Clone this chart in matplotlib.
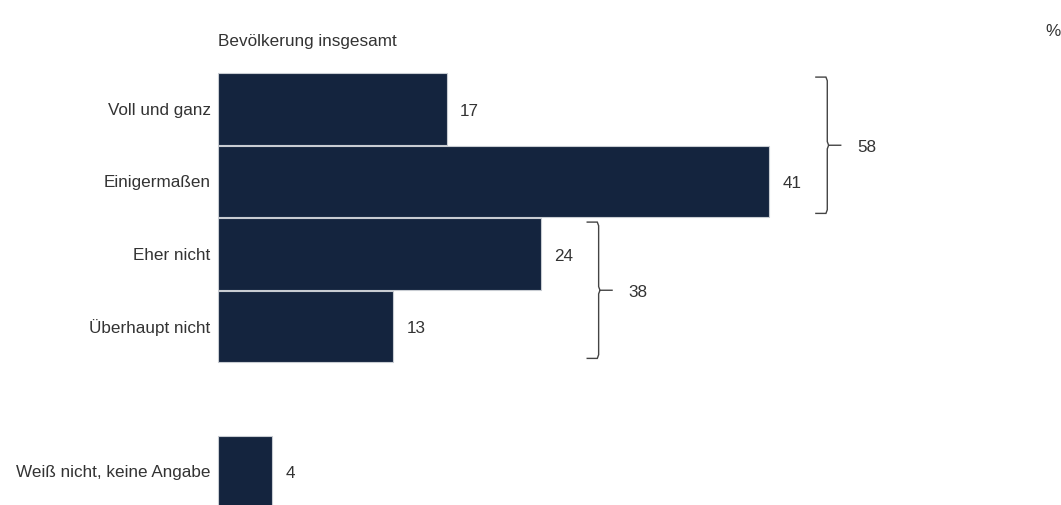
import matplotlib
matplotlib.use("Agg")
import matplotlib.pyplot as plt
from matplotlib.path import Path
from matplotlib.patches import PathPatch

categories = ["Voll und ganz", "Einigermaßen", "Eher nicht", "Überhaupt nicht", "Weiß nicht, keine Angabe"]
values = [17, 41, 24, 13, 4]
positions = [0, 1, 2, 3, 5]
group_labels = ["58", "38"]
group_members = [[0, 1], [2, 3]]
title = "Bevölkerung insgesamt"
unit = "%"

bar_color = "#14243e"
text_color = "#333333"
plt.rcParams['font.family'] = ['Liberation Sans', 'DejaVu Sans']
fs = 12.3

fig = plt.figure(figsize=(10.61, 5.06), dpi=100)
ax = fig.add_axes([0, 0, 1, 1])
ax.set_xlim(-218 / 13.45, (1061 - 218) / 13.45)
ax.set_ylim((506 - 110) / 72.5, -110 / 72.5)
ax.axis('off')

ax.barh(positions, values, height=0.98, color=bar_color, edgecolor="#c8ccd2", linewidth=0.8)

for p, v, c in zip(positions, values, categories):
    ax.text(v + 1.0, p + 0.02, str(v), ha='left', va='center', fontsize=fs, color=text_color)
    ax.text(-0.55, p, c, ha='right', va='center', fontsize=fs, color=text_color)

for lab, mem in zip(group_labels, group_members):
    top = positions[mem[0]] - 0.44
    bot = positions[mem[-1]] + 0.44
    mid = (top + bot) / 2
    xv = max(values[i] for i in mem) + 4.3
    s = 0.9
    r = 0.05
    verts = [(xv - s, top), (xv - 0.1, top), (xv, top + r), (xv, mid - r), (xv + 0.1, mid), (xv + 1.05, mid),
             (xv + 0.1, mid), (xv, mid + r), (xv, bot - r), (xv - 0.1, bot), (xv - s, bot)]
    codes = [Path.MOVETO, Path.LINETO, Path.LINETO, Path.LINETO, Path.LINETO, Path.LINETO,
             Path.MOVETO, Path.LINETO, Path.LINETO, Path.LINETO, Path.LINETO]
    ax.add_patch(PathPatch(Path(verts, codes), fill=False, edgecolor="#444444", linewidth=1.0))
    ax.text(xv + 2.2, mid + 0.02, lab, ha='left', va='center', fontsize=fs, color=text_color)

ax.text(0, -0.94, title, ha='left', va='center', fontsize=fs, color=text_color)
ax.text((1045 - 218) / 13.45, (32 - 110) / 72.5, unit, ha='left', va='center', fontsize=fs, color=text_color)

fig.savefig("out.png", dpi=100)
